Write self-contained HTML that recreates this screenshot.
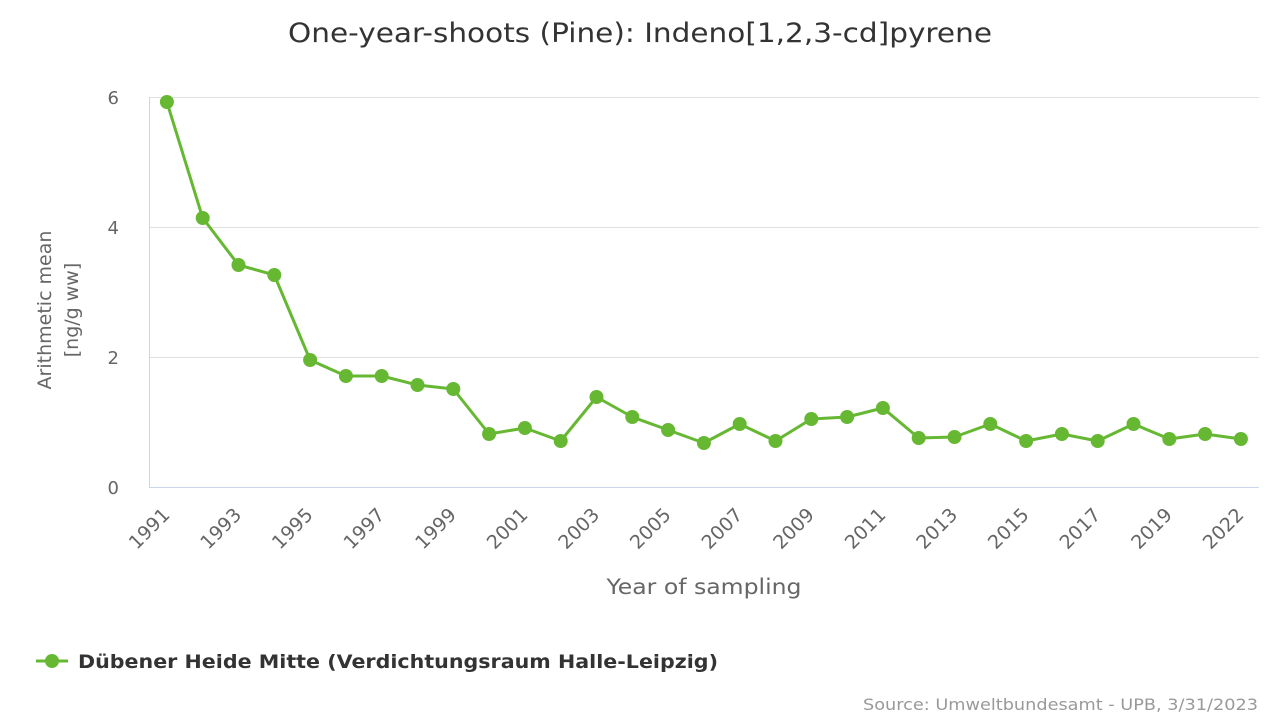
<!DOCTYPE html>
<html><head><meta charset="utf-8"><style>
html,body{margin:0;padding:0;background:#fff;width:1280px;height:720px;overflow:hidden}
svg{font-family:"DejaVu Sans","Liberation Sans",sans-serif}
</style></head><body>
<svg width="1280" height="720" viewBox="0 0 1280 720">
<text x="640" y="42" text-anchor="middle" font-size="27" fill="#333" textLength="704" lengthAdjust="spacingAndGlyphs">One-year-shoots (Pine): Indeno[1,2,3-cd]pyrene</text>
<g stroke="#e0e0e0" stroke-width="1">
<line x1="149" y1="97.5" x2="1259" y2="97.5"/>
<line x1="149" y1="227.5" x2="1259" y2="227.5"/>
<line x1="149" y1="357.5" x2="1259" y2="357.5"/>
</g>
<line x1="149" y1="487.5" x2="1259" y2="487.5" stroke="#ccd6eb"/>
<line x1="149.5" y1="97" x2="149.5" y2="487" stroke="#ccd6eb"/>
<g font-size="18" fill="#666" text-anchor="end">
<text x="119" y="104">6</text><text x="119" y="234">4</text><text x="119" y="364">2</text><text x="119" y="494">0</text>
</g>
<text transform="translate(51,310) rotate(-90)" text-anchor="middle" font-size="19" fill="#666"><tspan x="0" y="0">Arithmetic mean</tspan><tspan x="0" y="27">[ng/g ww]</tspan></text>
<g font-size="19" fill="#666" text-anchor="end" id="xl"></g>
<text x="704" y="594" text-anchor="middle" font-size="21" fill="#666" textLength="195" lengthAdjust="spacingAndGlyphs">Year of sampling</text>
<polyline id="ln" fill="none" stroke="#66b832" stroke-width="3" stroke-linejoin="round"/>
<g id="pts" fill="#66b832"></g>
<line x1="36" y1="661" x2="68" y2="661" stroke="#66b832" stroke-width="3"/>
<circle cx="52" cy="661" r="7" fill="#66b832"/>
<text x="78" y="668" font-size="19" font-weight="bold" fill="#333" textLength="640" lengthAdjust="spacingAndGlyphs">Dübener Heide Mitte (Verdichtungsraum Halle-Leipzig)</text>
<text x="863" y="710" font-size="16" fill="#999" textLength="395" lengthAdjust="spacingAndGlyphs">Source: Umweltbundesamt - UPB, 3/31/2023</text>
</svg>
<script>
var ys=[102,218,265,275,360,376,376,385,389,434,428,441,397,417,430,443,424,441,419,417,408,438,437,424,441,434,441,424,439,434,439];
var years=[];for(var y=1991;y<=2020;y++)years.push(y);years.push(2022);
var ns="http://www.w3.org/2000/svg",pts=[],g=document.getElementById('pts'),xl=document.getElementById('xl');
for(var i=0;i<31;i++){var x=149+35.8*(i+0.5);pts.push(x+","+ys[i]);
var c=document.createElementNS(ns,'circle');c.setAttribute('cx',x);c.setAttribute('cy',ys[i]);c.setAttribute('r',7);g.appendChild(c);
if(i==30||(years[i]-1991)%2==0){var t=document.createElementNS(ns,'text');t.setAttribute('transform','translate('+(x+4)+',516) rotate(-45)');t.textContent=years[i];xl.appendChild(t);}}
document.getElementById('ln').setAttribute('points',pts.join(' '));
</script>
</body></html>
